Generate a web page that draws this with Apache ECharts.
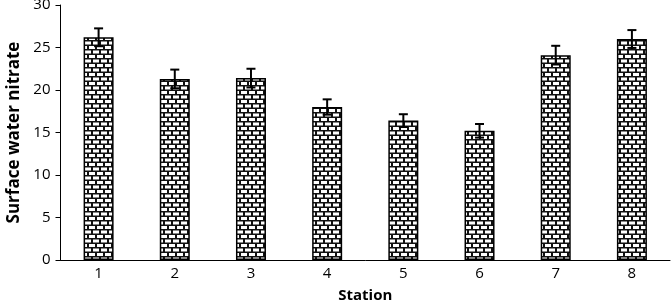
<!DOCTYPE html>
<html>
<head>
<meta charset="utf-8">
<script src="https://cdn.jsdelivr.net/npm/echarts@6/dist/echarts.min.js"></script>
<style>
  html, body { margin: 0; padding: 0; background: #fff; }
  #chartDom { width: 671px; height: 302px; }
</style>
</head>
<body>
<div id="chartDom"></div>
<script>
// 站点与数据
const stations = ['1', '2', '3', '4', '5', '6', '7', '8'];
const nitrate = [26.2, 21.3, 21.4, 18.0, 16.4, 15.2, 24.1, 26.0];
const nitrateErr = [1.05, 1.1, 1.1, 0.9, 0.75, 0.8, 1.1, 1.05];
const yTicks = [0, 5, 10, 15, 20, 25, 30];

// 砖块纹理
function brickPattern() {
  const c = document.createElement('canvas');
  c.width = 16;
  c.height = 9;
  const g = c.getContext('2d');
  g.fillStyle = '#111';
  g.fillRect(0, 0, 16, 9);
  g.fillStyle = '#fff';
  // first row
  g.fillRect(1, 1, 6, 3);
  g.fillRect(9, 1, 6, 3);
  // second row, shifted
  g.fillRect(0, 5.5, 3, 3);
  g.fillRect(5, 5.5, 6, 3);
  g.fillRect(13, 5.5, 3, 3);
  return c;
}

const chart = echarts.init(document.getElementById('chartDom'), null, { renderer: 'canvas' });
const font = '"Open Sans", "Liberation Sans", sans-serif';

chart.setOption({
  animation: false,
  grid: { left: 60.5, right: 1, top: 5, bottom: 42, containLabel: false, outerBoundsMode: 'none' },
  xAxis: {
    type: 'category',
    data: stations,
    name: 'Station',
    nameLocation: 'middle',
    nameGap: 28,
    nameTextStyle: { fontFamily: font, fontWeight: 'bold', fontSize: 15, color: '#000' },
    axisLine: { lineStyle: { color: '#000', width: 1 } },
    axisTick: { show: false },
    axisLabel: { fontFamily: font, fontSize: 15, color: '#000', margin: 6 }
  },
  yAxis: {
    type: 'value',
    min: 0,
    max: 30,
    interval: 5,
    name: 'Surface water nitrate',
    nameLocation: 'middle',
    nameGap: 38,
    nameTextStyle: { fontFamily: font, fontWeight: 'bold', fontSize: 17, color: '#000' },
    splitLine: { show: false },
    axisLine: { show: true, lineStyle: { color: '#000', width: 1 } },
    axisTick: { show: true, length: 5, lineStyle: { color: '#000' } },
    axisLabel: {
      fontFamily: font, fontSize: 15, color: '#000', margin: 10,
      formatter: (v) => yTicks.includes(v) ? String(v) : ''
    }
  },
  series: [
    {
      type: 'bar',
      data: nitrate,
      barWidth: 30,
      itemStyle: {
        color: { image: brickPattern(), repeat: 'repeat' },
        borderColor: '#000',
        borderWidth: 1.5
      }
    },
    {
      type: 'custom',
      data: nitrate.map((v, i) => [i, v, nitrateErr[i]]),
      z: 5,
      renderItem: function (params, api) {
        const x = api.value(0);
        const top = api.coord([x, api.value(1) + api.value(2)]);
        const bot = api.coord([x, api.value(1) - api.value(2)]);
        const hw = 4.5;
        const style = { stroke: '#000', lineWidth: 2 };
        return {
          type: 'group',
          children: [
            { type: 'line', shape: { x1: top[0], y1: top[1], x2: bot[0], y2: bot[1] }, style: style },
            { type: 'line', shape: { x1: top[0] - hw, y1: top[1], x2: top[0] + hw, y2: top[1] }, style: style },
            { type: 'line', shape: { x1: bot[0] - hw, y1: bot[1], x2: bot[0] + hw, y2: bot[1] }, style: style }
          ]
        };
      }
    }
  ]
});
</script>
</body>
</html>
